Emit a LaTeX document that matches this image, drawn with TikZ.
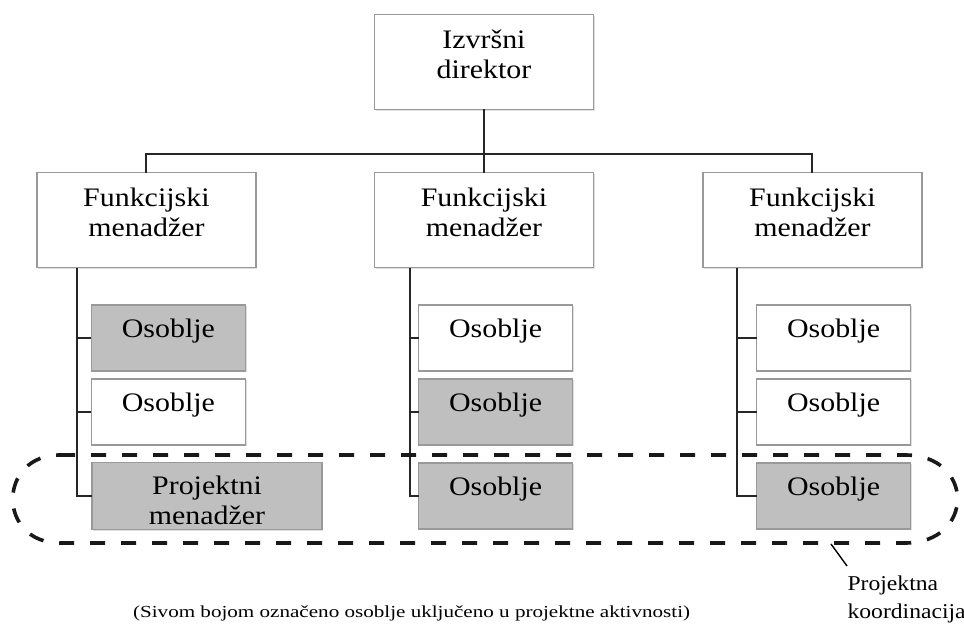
\documentclass[tikz,border=0pt]{standalone}
\usepackage{fontspec}
\setmainfont{Liberation Serif}[FakeStretch=1.12]
\newfontfamily\capfont{Liberation Serif}[FakeStretch=1.25]
\usetikzlibrary{calc,shadows}

\begin{document}
\begin{tikzpicture}[every node/.style={outer sep=0pt}]

% page frame
\useasboundingbox (0,0) rectangle (241mm,-156mm);

% Org box
\tikzstyle{orgbox}=[draw=black!40, line width=0.3mm, fill=white, align=center,
  font=\fontsize{19}{21.5}\selectfont,
  minimum width=54.75mm, minimum height=23.75mm, text height=12.25mm, text depth=4mm,
  drop shadow={shadow xshift=0.35mm, shadow yshift=-0.35mm, opacity=0.25}]
% Staff box
\tikzstyle{staff}=[orgbox, minimum width=38.5mm, minimum height=16.5mm, text height=4mm, text depth=4mm]
% Shaded = on the project
\tikzstyle{active}=[fill=black!25]
% Lines
\tikzstyle{wire}=[line width=0.5mm, black!85]
\tikzstyle{coordloop}=[line width=0.9mm, black!90, dash pattern=on 3.75mm off 4mm]


%%%%%%%%%%%%%%%%%%%%%%%%%%%%%%%%%%%%%%%%%%%%%%%%%%%%%%%%%%%%%%%%%%%%
%
%        Top level
%
\node (ceo) [orgbox] at (121mm,-15.5mm) {Izvršni\\direktor};

\node (fm1) [orgbox] at ( 36.6mm,-55.1mm) {Funkcijski\\menadžer};
\node (fm2) [orgbox] at (121mm,  -55.1mm) {Funkcijski\\menadžer};
\node (fm3) [orgbox] at (203.1mm,-55.1mm) {Funkcijski\\menadžer};

\coordinate (bar) at (121mm,-38.5mm);
\draw[wire] (ceo.south) -- (bar);
\draw[wire] (fm1.north) |- (bar) -| (fm3.north);
\draw[wire] (bar) -- (fm2.north);

%%%%%%%%%%%%%%%%%%%%%%%%%%%%%%%%%%%%%%%%%%%%%%%%%%%%%%%%%%%%%%%%%%%%
%
%        Staff
%
\node (s11) [staff, active] at ( 42.1mm, -84.5mm) {Osoblje};
\node (s12) [staff]         at ( 42.1mm,-103mm)   {Osoblje};
\node (pm)  [staff, active, minimum width=57.5mm, text height=14.5mm, text depth=0mm]
                            at ( 51.75mm,-124mm)  {Projektni\\menadžer};

\node (s21) [staff]         at (123.9mm, -84.5mm) {Osoblje};
\node (s22) [staff, active] at (123.9mm,-103mm)   {Osoblje};
\node (s23) [staff, active] at (123.9mm,-124mm)   {Osoblje};

\node (s31) [staff]         at (208.4mm, -84.5mm) {Osoblje};
\node (s32) [staff]         at (208.4mm,-103mm)   {Osoblje};
\node (s33) [staff, active] at (208.4mm,-124mm)   {Osoblje};

% stems
\coordinate (stem1) at ($(fm1.south west)+(10mm,0)$);
\coordinate (stem2) at ($(fm2.south west)+(8.75mm,0)$);
\coordinate (stem3) at ($(fm3.south west)+(8.5mm,0)$);

\draw[wire] (stem1) |- (s11.west);
\draw[wire] (stem1) |- (s12.west);
\draw[wire] (stem1) |- (pm.west);
\draw[wire] (stem2) |- (s21.west);
\draw[wire] (stem2) |- (s22.west);
\draw[wire] (stem2) |- (s23.west);
\draw[wire] (stem3) |- (s31.west);
\draw[wire] (stem3) |- (s32.west);
\draw[wire] (stem3) |- (s33.west);

%%%%%%%%%%%%%%%%%%%%%%%%%%%%%%%%%%%%%%%%%%%%%%%%%%%%%%%%%%%%%%%%%%%%
%
%        Project coordination
%
\draw[coordloop] (15mm,-113.75mm) -- (226.25mm,-113.75mm)
  .. controls (243.75mm,-113.75mm) and (243.75mm,-135.75mm) .. (226.25mm,-135.75mm)
  -- (15mm,-135.75mm)
  .. controls (-0.75mm,-135.75mm) and (-0.75mm,-113.75mm) .. cycle;

\coordinate (lead1) at (207.75mm,-136mm);
\coordinate (lead2) at (211.75mm,-141.5mm);
\draw[line width=0.35mm] (lead1) -- (lead2);
\node (pk) [anchor=north west, align=left, inner sep=0pt, font=\fontsize{15}{19.5}\selectfont]
  at (211.9mm,-144mm) {Projektna\\koordinacija};

\node (note) [anchor=base, inner sep=0pt, font=\capfont\fontsize{12}{14}\selectfont]
  at (102.9mm,-154.5mm) {(Sivom bojom označeno osoblje uključeno u projektne aktivnosti)};

\end{tikzpicture}
\end{document}
